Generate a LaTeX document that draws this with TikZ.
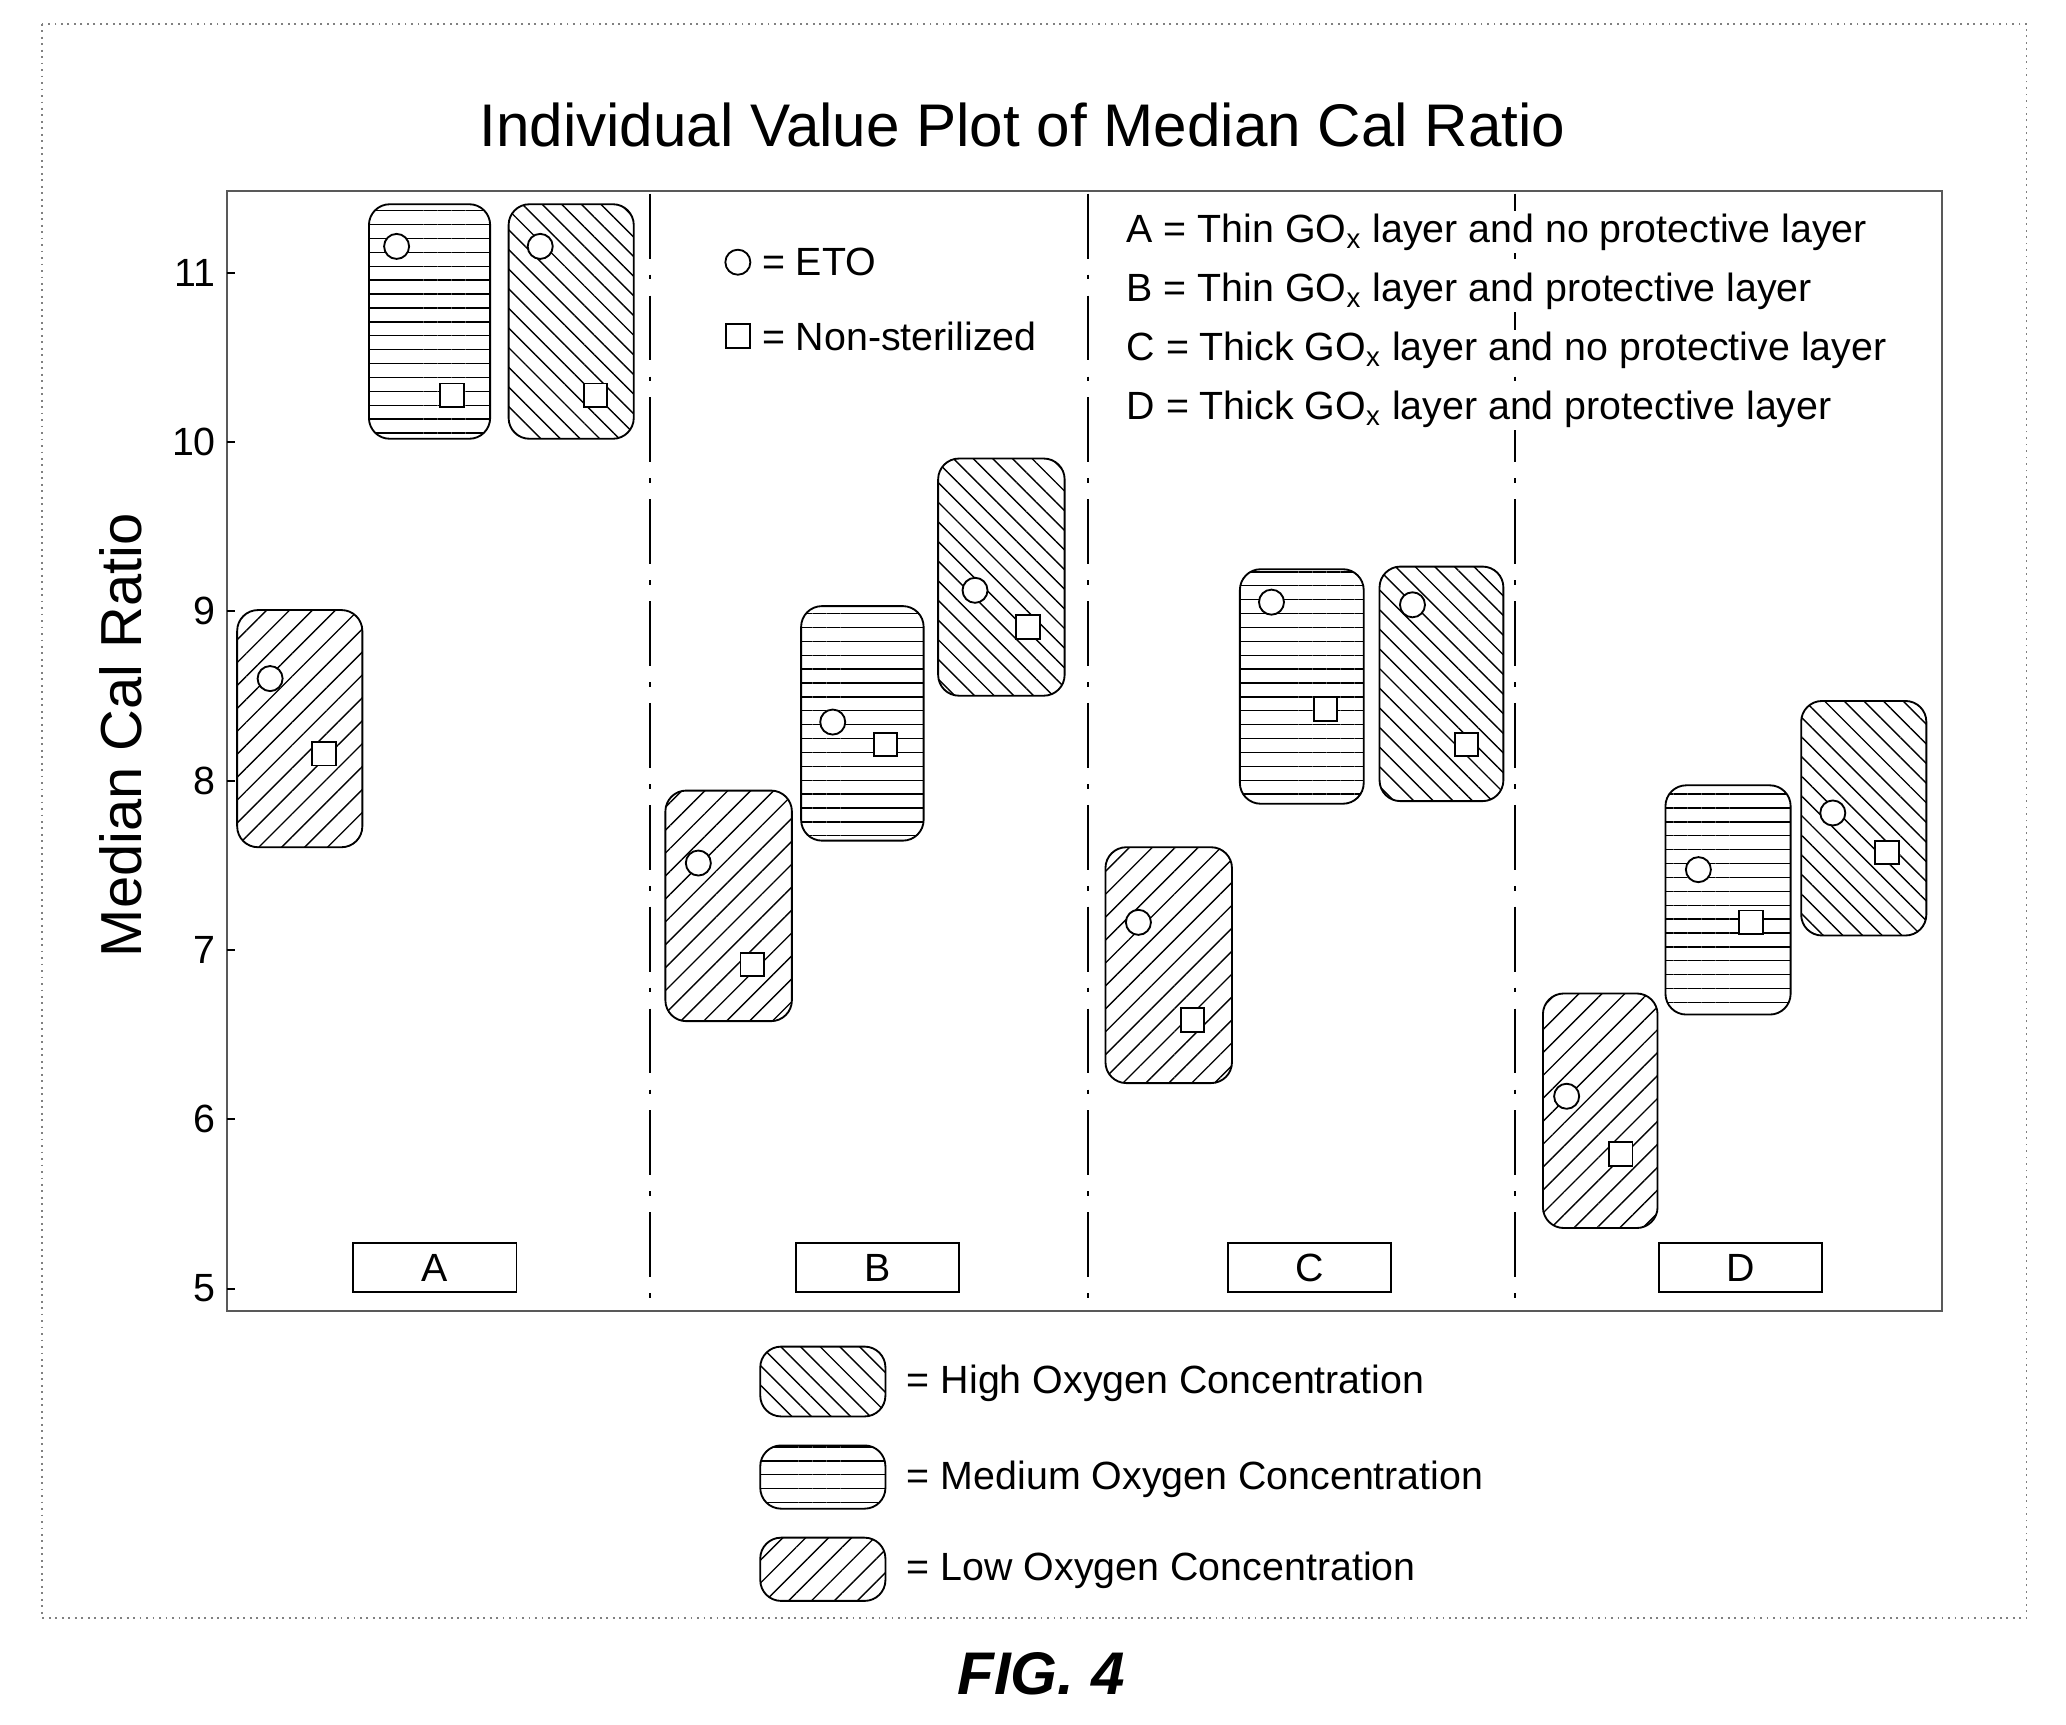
\documentclass[tikz,border=0pt]{standalone}
\usepackage{fontspec}
\setmainfont{Liberation Sans}
\usetikzlibrary{patterns.meta}
\begin{document}
\begin{tikzpicture}[x=0.02cm,y=-0.02cm,
  hi/.style={rounded corners=9pt,draw,thick,pattern={Lines[angle=-45,distance=6pt,line width=0.6pt]}},
  med/.style={rounded corners=9pt,draw,thick,pattern={Lines[angle=0,distance=6pt,line width=0.6pt]}},
  lo/.style={rounded corners=9pt,draw,thick,pattern={Lines[angle=45,distance=7pt,line width=0.6pt]}},
  circ/.style={circle,draw,thick,fill=white,minimum size=0.38cm,inner sep=0pt},
  sq/.style={rectangle,draw,thick,fill=white,minimum size=0.36cm,inner sep=0pt},
  lab/.style={draw,thick,minimum width=2.48cm,minimum height=0.74cm,font=\fontsize{17}{17}\selectfont,inner sep=0pt},
  leg/.style={anchor=west,font=\fontsize{17}{19}\selectfont,inner sep=0pt},
  div/.style={thick,dash pattern=on 28pt off 7pt on 2pt off 7pt}]
\useasboundingbox (0,0) rectangle (1568,1309);
\draw[gray,dotted,thick] (32,18) rectangle (1538,1228);
\node[font=\fontsize{26}{28}\selectfont] (title) at (776,95) {Individual Value Plot of Median Cal Ratio};
\draw[thick,gray!70!black] (172,145) rectangle (1474,995);
\foreach \v in {5,...,11}{
  \pgfmathsetmacro{\yy}{978-128.5*(\v-5)}
  \draw[thick] (172,\yy) -- (178,\yy);
  \node[anchor=east,font=\fontsize{17}{17}\selectfont] at (170,\yy) {\v};
}
\node[rotate=90,font=\fontsize{25}{25}\selectfont] (ylab) at (92,558) {Median Cal Ratio};
\foreach \x in {493,826,1150} \draw[div] (\x,147) -- (\x,993);
\node[lab] (A) at (330,962) {A};
\node[lab] (B) at (666,962) {B};
\node[lab] (C) at (994,962) {C};
\node[lab] (D) at (1321,962) {D};
\foreach \s/\xa/\ya/\xb/\yb/\cx/\cy/\qx/\qy in {
 lo/180/463/275/643/205/515/246/572,
 med/280/155/372/333/301/187/343/300,
 hi/386/155/481/333/410/187/452/300,
 lo/505/600/601/775/530/655/571/732,
 med/608/460/701/638/632/548/672/565,
 hi/712/348/808/528/740/448/780/476,
 lo/839/643/935/822/864/700/905/774,
 med/941/432/1035/610/965/457/1006/538,
 hi/1047/430/1141/608/1072/459/1113/565,
 lo/1171/754/1258/932/1189/832/1230/876,
 med/1264/596/1359/770/1289/660/1329/700,
 hi/1367/532/1462/710/1391/617/1432/647}{
  \draw[\s] (\xa,\ya) rectangle (\xb,\yb);
  \node[circ] at (\cx,\cy) {};
  \node[sq] at (\qx,\qy) {};
}
\node[circ] (eto) at (560,199) {};
\node[leg] at (578,199) {= ETO};
\node[sq] (ns) at (560,255) {};
\node[leg] at (578,255) {= Non-sterilized};
\node[leg,fill=white,inner sep=1pt] at (853,176) {A = Thin GO\textsubscript{x} layer and no protective layer};
\node[leg,fill=white,inner sep=1pt] at (853,221) {B = Thin GO\textsubscript{x} layer and protective layer};
\node[leg,fill=white,inner sep=1pt] at (853,266) {C = Thick GO\textsubscript{x} layer and no protective layer};
\node[leg,fill=white,inner sep=1pt] at (853,311) {D = Thick GO\textsubscript{x} layer and protective layer};
\draw[hi] (577,1022) rectangle (672,1075);
\node[leg] at (688,1050) {= High Oxygen Concentration};
\draw[med] (577,1097) rectangle (672,1145);
\node[leg] at (688,1123) {= Medium Oxygen Concentration};
\draw[lo] (577,1167) rectangle (672,1215);
\node[leg] at (688,1192) {= Low Oxygen Concentration};
\node[font=\fontsize{26}{26}\selectfont\bfseries\itshape] (fig) at (790,1270) {FIG. 4};
\end{tikzpicture}
\end{document}
